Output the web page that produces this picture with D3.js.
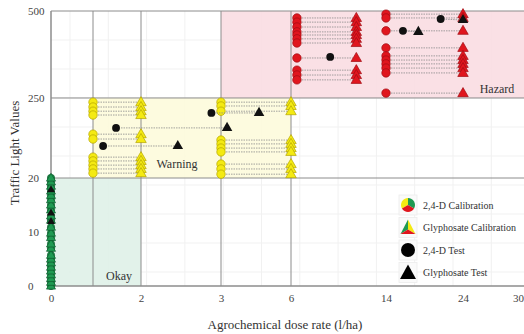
<!DOCTYPE html>
<html>
<head>
<meta charset="utf-8">
<script src="https://cdn.jsdelivr.net/npm/d3@7"></script>
<style>
  html, body { margin: 0; padding: 0; background: #fff; }
  svg { display: block; font-family: "Liberation Serif", "DejaVu Serif", serif; }
</style>
</head>
<body>
<svg id="chart" width="524" height="334"></svg>
<script>
// ---- data -------------------------------------------------------------
const xTicks = [0, 2, 3, 6, 14, 24, 30];
const yTicks = [0, 10, 20, 250, 500];
const xMajorLines = [1, 2, 3, 6];
const yMajorLines = [20, 250, 500];

// calibration rows: 2,4-D dose (circle) -> glyphosate dose (triangle), same traffic value
const warnLowDoses = [1, 2];
const warnLowValues = [238, 224, 212, 201, 146, 132, 80, 69, 57, 46, 34];
const warnHighDoses = [3, 6];
const warnHighValues = [238, 227, 212, 129, 118, 106, 95, 60, 46, 31];
const hazLowDoses = [6.5, 11.5];
const hazLowValues = [480, 468, 454, 440, 431, 420, 408, 365, 330, 316, 302];
const hazHighDoses = [14, 24];
const hazHighValues = [491, 480, 443, 394, 371, 359, 348, 336, 322, 264];
const okayDose = 0;
const okayValues = [0, 0.7, 1.4, 2.1, 2.8, 3.5, 4.3, 5, 5.7, 7, 7.8, 9, 9.8, 10.9,
                    12.2, 13, 14.1, 15, 16, 16.8, 17.6, 18.5, 19.3, 20];

// test samples
const testCircleDoses = [1.21, 1.48, 2.88, 9.3, 16.2, 21.1];
const testCircleValues = [112, 164, 207, 368, 443, 477];
const testTriangleDoses = [2.46, 3.26, 4.63, 18.2, 24, 0, 0, 0];
const testTriangleValues = [112, 164, 207, 440, 474, 17.8, 13.5, 11.9];
// index pairs (circle, triangle) linked by a dotted connector
const testLinks = [[0, 0], [1, 1], [2, 2], [4, 3], [5, 4]];

const legendLabels = ["2,4-D Calibration", "Glyphosate Calibration", "2,4-D Test", "Glyphosate Test"];

// ---- layout -----------------------------------------------------------
const svg = d3.select("#chart");
const plotLeft = 51, plotRight = 524, plotTop = 11, plotBottom = 286;

const x = d3.scaleLinear()
  .domain([0, 1, 2, 3, 6, 14, 24, 30])
  .range([51, 93, 141, 221, 291, 386, 463, 518]);
const y = d3.scaleLinear()
  .domain([0, 20, 500])
  .range([286, 178, 11]);

const colors = {
  yellow: { fill: "#f4ea12", stroke: "#b3a400" },
  red:    { fill: "#e0161e", stroke: "#9f0c12" },
  green:  { fill: "#1f9a52", stroke: "#0d5a2d" }
};

// faint minor grid
const g = svg.append("g");
const minorX = d3.range(plotLeft + 19, plotRight, 38.3);
const minorY = d3.range(plotTop + 29, plotBottom, 29);
g.selectAll(".mx").data(minorX).join("line")
  .attr("x1", d => d).attr("x2", d => d).attr("y1", plotTop).attr("y2", plotBottom)
  .attr("stroke", "#f1f1f1").attr("stroke-width", 1);
g.selectAll(".my").data(minorY).join("line")
  .attr("x1", plotLeft).attr("x2", plotRight).attr("y1", d => d).attr("y2", d => d)
  .attr("stroke", "#f1f1f1").attr("stroke-width", 1);

// zones
const zones = [
  { x0: x(3), x1: plotRight, v0: 250, v1: 500, fill: "#fadde2", label: "Hazard", lx: 497, lv: 250, dy: -5 },
  { x0: x(1), x1: x(6), v0: 20, v1: 250, fill: "#fdfbdb", label: "Warning", lx: 177, lv: 20, dy: -10 },
  { x0: x(0), x1: x(2), v0: 0, v1: 20, fill: "#dff1e8", label: "Okay", lx: 119, lv: 0, dy: -6 }
];
svg.selectAll(".zone").data(zones).join("rect")
  .attr("x", d => d.x0).attr("width", d => d.x1 - d.x0)
  .attr("y", d => y(d.v1)).attr("height", d => y(d.v0) - y(d.v1))
  .attr("fill", d => d.fill).attr("opacity", 0.9);

// major grid lines
svg.selectAll(".vx").data(xMajorLines).join("line")
  .attr("x1", d => x(d)).attr("x2", d => x(d)).attr("y1", plotTop).attr("y2", plotBottom)
  .attr("stroke", "#8c8c8c").attr("stroke-width", 1);
svg.selectAll(".hy").data(yMajorLines).join("line")
  .attr("x1", plotLeft).attr("x2", plotRight).attr("y1", d => y(d)).attr("y2", d => y(d))
  .attr("stroke", "#8c8c8c").attr("stroke-width", 1);

// zone labels
svg.selectAll(".zl").data(zones).join("text")
  .attr("x", d => d.lx).attr("y", d => y(d.lv) + d.dy)
  .attr("text-anchor", "middle").attr("font-size", 12).attr("fill", "#333")
  .text(d => d.label);

// axes
const xAxis = svg.append("g").attr("transform", `translate(0,${plotBottom})`)
  .call(d3.axisBottom(x).tickValues(xTicks).tickSize(0).tickPadding(8).tickFormat(d3.format("d")));
xAxis.select(".domain").remove();
xAxis.selectAll("text").attr("font-size", 11).attr("fill", "#444")
  .attr("font-family", "Liberation Serif, serif");

const yAxis = svg.append("g").attr("transform", `translate(${plotLeft},0)`)
  .call(d3.axisLeft(y).tickValues(yTicks).tickSize(0).tickFormat(d3.format("d")));
yAxis.select(".domain").remove();
yAxis.selectAll("text").attr("font-size", 11).attr("fill", "#444")
  .attr("x", -23).attr("text-anchor", "start")
  .attr("font-family", "Liberation Serif, serif");

svg.append("line").attr("x1", plotLeft).attr("x2", plotRight).attr("y1", plotBottom).attr("y2", plotBottom)
  .attr("stroke", "#8c8c8c").attr("stroke-width", 1.5);
svg.append("line").attr("x1", plotLeft).attr("x2", plotLeft).attr("y1", plotTop).attr("y2", plotBottom)
  .attr("stroke", "#8c8c8c").attr("stroke-width", 1.5);

svg.append("text").attr("x", 285).attr("y", 329).attr("text-anchor", "middle")
  .attr("font-size", 13).attr("fill", "#333").text("Agrochemical dose rate (l/ha)");
svg.append("text").attr("transform", "translate(19,153) rotate(-90)").attr("text-anchor", "middle")
  .attr("font-size", 13).attr("fill", "#333").text("Traffic Light Values");

// ---- marks ------------------------------------------------------------
const circleSym = d3.symbol().type(d3.symbolCircle);
const triSym = d3.symbol().type(d3.symbolTriangle);

function calibrationGroup(doses, values, col, size) {
  const grp = svg.append("g");
  grp.selectAll("line").data(values).join("line")
    .attr("x1", x(doses[0])).attr("x2", x(doses[1]))
    .attr("y1", d => y(d)).attr("y2", d => y(d))
    .attr("stroke", "#8a8a8a").attr("stroke-width", 0.8).attr("stroke-dasharray", "1.5,1");
  grp.selectAll(".c").data(values).join("path").attr("class", "c")
    .attr("transform", d => `translate(${x(doses[0])},${y(d)})`)
    .attr("d", circleSym.size(size)())
    .attr("fill", col.fill).attr("stroke", col.stroke).attr("stroke-width", 0.7);
  grp.selectAll(".t").data(values).join("path").attr("class", "t")
    .attr("transform", d => `translate(${x(doses[1])},${y(d) + 0.5})`)
    .attr("d", triSym.size(size * 0.85)())
    .attr("fill", col.fill).attr("stroke", col.stroke).attr("stroke-width", 0.7);
}

calibrationGroup(warnLowDoses, warnLowValues, colors.yellow, 56);
calibrationGroup(warnHighDoses, warnHighValues, colors.yellow, 56);
calibrationGroup(hazLowDoses, hazLowValues, colors.red, 56);
calibrationGroup(hazHighDoses, hazHighValues, colors.red, 56);
calibrationGroup([okayDose, okayDose], okayValues, colors.green, 42);

// test connectors
svg.append("g").selectAll("line").data(testLinks).join("line")
  .attr("x1", d => x(testCircleDoses[d[0]])).attr("x2", d => x(testTriangleDoses[d[1]]))
  .attr("y1", d => y(testCircleValues[d[0]])).attr("y2", d => y(testTriangleValues[d[1]]))
  .attr("stroke", "#8a8a8a").attr("stroke-width", 0.8).attr("stroke-dasharray", "1.5,1");

svg.append("g").selectAll("path").data(testCircleDoses).join("path")
  .attr("transform", (d, i) => `translate(${x(d)},${y(testCircleValues[i])})`)
  .attr("d", circleSym.size(48)()).attr("fill", "#111");
svg.append("g").selectAll("path").data(testTriangleDoses).join("path")
  .attr("transform", (d, i) => `translate(${x(d)},${y(testTriangleValues[i])})`)
  .attr("d", (d) => triSym.size(d === 0 ? 28 : 48)()).attr("fill", "#111");

// ---- legend -----------------------------------------------------------
const lg = svg.append("g").attr("transform", "translate(408,205)");
const rows = lg.selectAll("g").data(legendLabels).join("g")
  .attr("transform", (d, i) => `translate(0,${i * 22.5})`);
rows.append("rect").attr("x", -9).attr("y", -10).attr("width", 18).attr("height", 20)
  .attr("fill", "#fafafa").attr("stroke", "#ececec").attr("stroke-width", 0.8);
rows.append("text").attr("x", 15).attr("y", 3.5).attr("font-size", 10).attr("fill", "#333")
  .text(d => d);

// three-colour pie for 2,4-D calibration
const pie = d3.pie().sort(null).startAngle(-2 * Math.PI / 3).endAngle(4 * Math.PI / 3)([1, 1, 1]);
const arc = d3.arc().innerRadius(0).outerRadius(7);
const pieCols = [colors.yellow.fill, colors.green.fill, colors.red.fill];
lg.append("g").selectAll("path").data(pie).join("path")
  .attr("d", arc).attr("fill", (d, i) => pieCols[i]);

// three-colour triangle for glyphosate calibration
const tri = lg.append("g").attr("transform", "translate(0,22.5)");
const A = [0, -8], B = [-7.5, 6.5], C = [7.5, 6.5], M = [0, 2];
tri.append("path").attr("d", `M${A}L${B}L${M}Z`).attr("fill", colors.green.fill);
tri.append("path").attr("d", `M${A}L${M}L${C}Z`).attr("fill", colors.yellow.fill);
tri.append("path").attr("d", `M${B}L${C}L${M}Z`).attr("fill", colors.red.fill);

lg.append("circle").attr("cx", 0).attr("cy", 45).attr("r", 7).attr("fill", "#000");
lg.append("path").attr("transform", "translate(0,67.5)")
  .attr("d", `M0,-8L-8,6.5L8,6.5Z`).attr("fill", "#000");
</script>
</body>
</html>
